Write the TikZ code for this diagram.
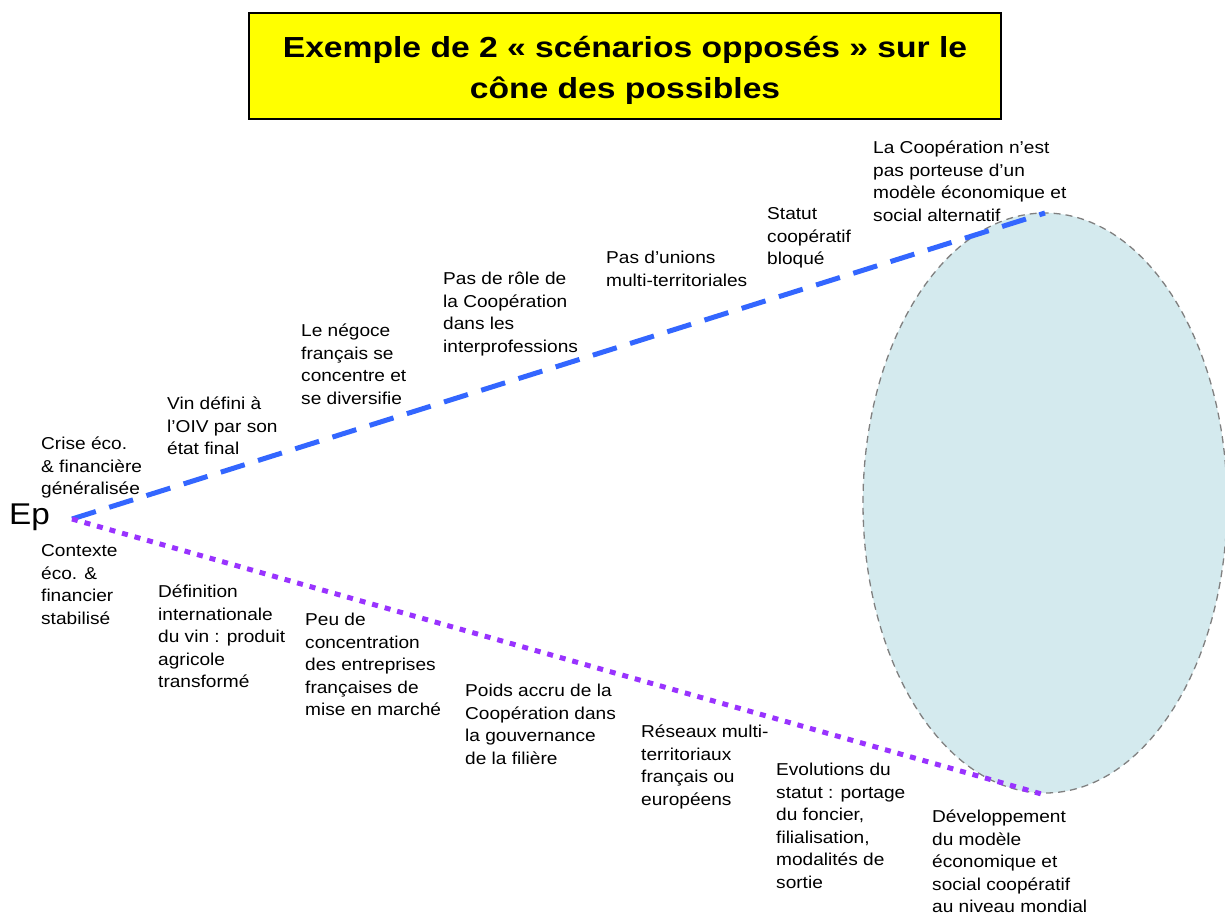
\documentclass[tikz,border=0pt]{standalone}
\usepackage{fontspec}
\usetikzlibrary{shapes.geometric}
\setmainfont[FakeStretch=1.11]{Liberation Sans}
\newfontfamily\titlefont[FakeStretch=1.16]{Liberation Sans}
\begin{document}
\begin{tikzpicture}[x=1pt,y=-1pt,
  lbl/.style={anchor=north west,inner sep=0pt,align=left,font=\fontsize{17.2}{22.5}\selectfont},
  bluedash/.style={draw={rgb,255:red,51;green,102;blue,255},line width=5pt,dash pattern=on 25pt off 14pt},
  purpledot/.style={draw={rgb,255:red,153;green,51;blue,255},line width=5pt,dash pattern=on 6pt off 7pt},
  cone/.style={draw={rgb,255:red,128;green,128;blue,128},fill={rgb,255:red,212;green,234;blue,238},line width=1.3pt,dash pattern=on 7pt off 5pt}]
\useasboundingbox (0,0) rectangle (1225,917);
% title
\node[draw=black,line width=1.5pt,fill={rgb,255:red,255;green,255;blue,0},minimum width=752pt,minimum height=106pt,inner sep=0pt] (title) at (625,66) {};
\node[inner sep=0pt,font=\titlefont\bfseries\fontsize{29}{41}\selectfont,align=center] (titletext) at (625,70) {Exemple de 2 « scénarios opposés » sur le\\cône des possibles};
% cone
\node[cone,ellipse,minimum width=364pt,minimum height=580pt,inner sep=0pt] (cone) at (1045,503) {};
\coordinate (ep) at (72,519);
\coordinate (top) at (1045,213);
\coordinate (bot) at (1045,795);
\node[anchor=west,inner sep=0pt,font=\fontsize{30}{30}\selectfont] (eplabel) at (9,517) {Ep};
\draw[bluedash] (ep) -- (top);
\draw[purpledot] (ep) -- (bot);
% upper labels
\node[lbl] (u1) at (41,434) {\strut Crise éco.\\\& financière\\généralisée};
\node[lbl] (u2) at (167,394) {\strut Vin défini à\\l’OIV par son\\état final};
\node[lbl] (u3) at (301,321) {\strut Le négoce\\français se\\concentre et\\se diversifie};
\node[lbl] (u4) at (443,269) {\strut Pas de rôle de\\la Coopération\\dans les\\interprofessions};
\node[lbl] (u5) at (606,248) {\strut Pas d’unions\\multi-territoriales};
\node[lbl] (u6) at (767,204) {\strut Statut\\coopératif\\bloqué};
\node[lbl] (u7) at (873,138) {\strut La Coopération n’est\\pas porteuse d’un\\modèle économique et\\social alternatif};
% lower labels
\node[lbl] (l1) at (41,541) {\strut Contexte\\éco. \&\\financier\\stabilisé};
\node[lbl] (l2) at (158,582) {\strut Définition\\internationale\\du vin : produit\\agricole\\transformé};
\node[lbl] (l3) at (305,610) {\strut Peu de\\concentration\\des entreprises\\françaises de\\mise en marché};
\node[lbl] (l4) at (465,681) {\strut Poids accru de la\\Coopération dans\\la gouvernance\\de la filière};
\node[lbl] (l5) at (641,722) {\strut Réseaux multi-\\territoriaux\\français ou\\européens};
\node[lbl] (l6) at (776,760) {\strut Evolutions du\\statut : portage\\du foncier,\\filialisation,\\modalités de\\sortie};
\node[lbl] (l7) at (932,807) {\strut Développement\\du modèle\\économique et\\social coopératif\\au niveau mondial};
\end{tikzpicture}
\end{document}
